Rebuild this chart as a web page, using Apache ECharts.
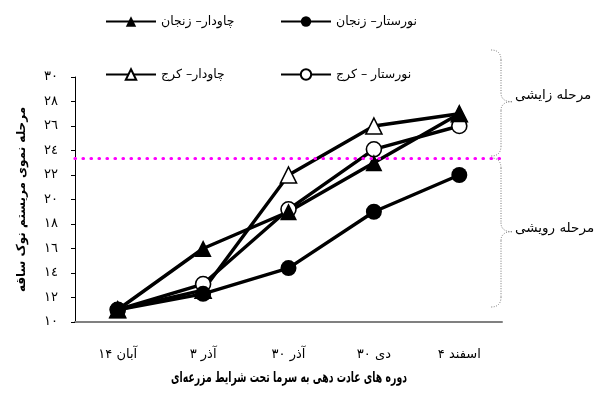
<!DOCTYPE html>
<html>
<head>
<meta charset="utf-8">
<script src="https://cdn.jsdelivr.net/npm/echarts@6/dist/echarts.min.js"></script>
<style>html,body{margin:0;padding:0;background:#fff;}#c{width:606px;height:407px;}</style>
</head>
<body>
<div id="c"></div>
<script>
const categories = ['آبان ۱۴', 'آذر ۳', 'آذر ۳۰', 'دی ۳۰', 'اسفند ۴'];
const yTickLabels = {10:'١٠',12:'١٢',14:'١٤',16:'١٦',18:'١٨',20:'٢٠',22:'٢٢',24:'٢٤',26:'٢٦',28:'٢٨',30:'٣٠'};
const ryeZanjan = [11, 16, 19, 23, 27];
const norZanjan = [11, 12.3, 14.4, 19, 22];
const ryeKaraj = [11, 12.6, 22, 26, 27];
const norKaraj = [11, 13.1, 19.2, 24.1, 26];
const boundaryValue = 23.4;
const names = ['چاودار– زنجان', 'نورستار– زنجان', 'چاودار– کرج', 'نورستار – کرج'];
const xTitle = 'دوره های عادت دهی به سرما تحت شرایط مزرعه‌ای';
const yTitle = 'مرحله نموی مریستم نوک ساقه';
const stageTop = 'مرحله زایشی';
const stageBottom = 'مرحله رویشی';

const FONT = 'DejaVu Sans';
const chart = echarts.init(document.getElementById('c'), null, {renderer: 'canvas'});

function legendAt(name, left, top) {
  return {
    data: [name], left: left, top: top, itemWidth: 50, itemHeight: 13, itemGap: 4,
    textStyle: {fontFamily: FONT, fontSize: 12.5, color: '#000'}
  };
}

function lineSeries(name, data, symbol, filled, size) {
  return {
    name: name, type: 'line', data: data, symbol: symbol, symbolSize: size,
    showAllSymbol: true,
    lineStyle: {color: '#000', width: 3.4},
    itemStyle: {color: filled ? '#000' : '#fff', borderColor: '#000', borderWidth: filled ? 0 : 1.6},
    emphasis: {disabled: true}
  };
}

const braceStyle = {fill: null, stroke: '#777', lineWidth: 1, lineDash: [1, 1.5]};
function brace(x0, y0, y1, tipY) {
  const xv = x0 + 10, xt = x0 + 21;
  const segs = [
    {type: 'bezierCurve', shape: {x1: x0, y1: y0, cpx1: xv, cpy1: y0, x2: xv, y2: y0 + 10}},
    {type: 'line', shape: {x1: xv, y1: y0 + 10, x2: xv, y2: tipY - 9}},
    {type: 'bezierCurve', shape: {x1: xv, y1: tipY - 9, cpx1: xv, cpy1: tipY, x2: xt, y2: tipY}},
    {type: 'bezierCurve', shape: {x1: xt, y1: tipY, cpx1: xv, cpy1: tipY, x2: xv, y2: tipY + 9}},
    {type: 'line', shape: {x1: xv, y1: tipY + 9, x2: xv, y2: y1 - 10}},
    {type: 'bezierCurve', shape: {x1: xv, y1: y1 - 10, cpx1: xv, cpy1: y1, x2: x0, y2: y1}}
  ];
  segs.forEach(s => { s.style = Object.assign({}, braceStyle); s.silent = true; });
  return segs;
}

chart.setOption({
  animation: false,
  backgroundColor: '#fff',
  legend: [
    legendAt(names[0], 100, 10),
    legendAt(names[1], 275, 10),
    legendAt(names[2], 100, 63),
    legendAt(names[3], 275, 63)
  ],
  grid: {left: 75, right: 104, top: 77, bottom: 85},
  xAxis: {
    type: 'category', data: categories, boundaryGap: true,
    axisLine: {lineStyle: {color: '#808080', width: 2}},
    axisTick: {show: false},
    axisLabel: {margin: 26, fontFamily: FONT, fontSize: 13, color: '#000'}
  },
  yAxis: {
    type: 'value', min: 10, max: 30, interval: 2,
    axisLine: {show: true, lineStyle: {color: '#000', width: 1}},
    axisTick: {show: true, length: 4, lineStyle: {color: '#000'}},
    splitLine: {show: false},
    axisLabel: {margin: 17, fontFamily: FONT, fontSize: 13, color: '#000', formatter: v => yTickLabels[v] || ''},
    name: yTitle, nameLocation: 'middle', nameGap: 47,
    nameTextStyle: {fontFamily: FONT, fontSize: 12, fontWeight: 'bold', color: '#000'}
  },
  series: [
    Object.assign(lineSeries(names[2], ryeKaraj, 'triangle', false, 16), {
      markLine: {
        silent: true, symbol: 'none', label: {show: false},
        lineStyle: {color: '#FF00FF', width: 3.2, type: [0.5, 7.5], cap: 'round'},
        data: [{yAxis: boundaryValue}]
      }
    }),
    lineSeries(names[3], norKaraj, 'circle', false, 15),
    lineSeries(names[0], ryeZanjan, 'triangle', true, 17),
    lineSeries(names[1], norZanjan, 'circle', true, 16)
  ],
  graphic: [].concat(
    brace(491, 50, 156, 101.7),
    brace(491, 158, 307, 231.7),
    [
      {type: 'text', left: 515, top: 88, style: {text: stageTop, fontFamily: FONT, fontSize: 13.5, fill: '#000'}},
      {type: 'text', left: 515, top: 221, style: {text: stageBottom, fontFamily: FONT, fontSize: 13.5, fill: '#000'}},
      {type: 'text', x: 289, y: 378, scaleX: 0.62, style: {text: xTitle, fontFamily: FONT, fontSize: 15, fontWeight: 'bold', fill: '#000', align: 'center', verticalAlign: 'middle'}}
    ]
  )
});
</script>
</body>
</html>
